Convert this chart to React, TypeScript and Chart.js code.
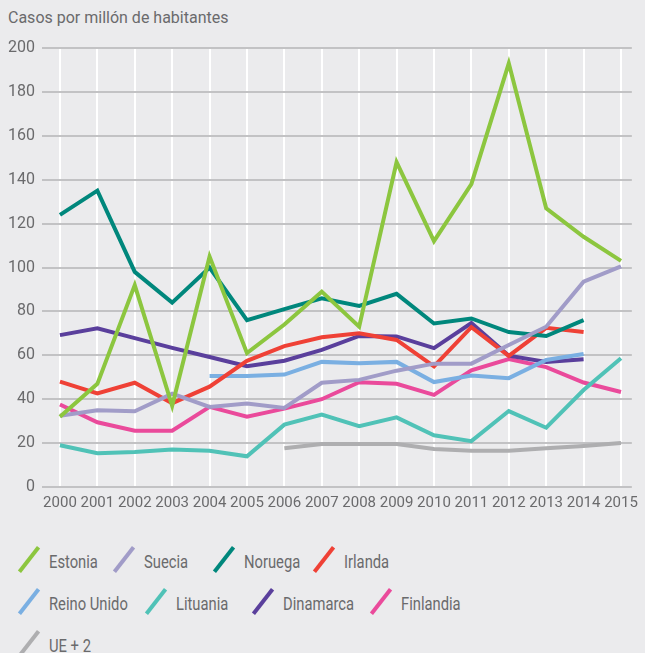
import React, { useEffect, useRef } from "react";
import { Chart, registerables } from "chart.js";
Chart.register(...registerables);

const years = [2000, 2001, 2002, 2003, 2004, 2005, 2006, 2007, 2008, 2009, 2010, 2011, 2012, 2013, 2014, 2015];
const estonia = [32, 47, 92, 37, 105, 61, 74, 89, 73, 148, 112, 138, 193, 127, 114, 103];
const suecia = [32.5, 35, 34.5, 42.5, 36.5, 38, 36, 47.5, 48.8, 53, 56.2, 56.2, 64.7, 73, 93.5, 100.5];
const noruega = [124, 135, 98, 84, 100, 76, 81, 86, 82.5, 88, 74.5, 76.8, 70.6, 68.8, 76, null];
const irlanda = [48, 42.6, 47.5, 38.2, 45.7, 57.5, 64.2, 68.2, 70, 67, 55, 72.8, 59.7, 72.5, 70.6, null];
const reinoUnido = [null, null, null, null, 50.6, 50.6, 51.2, 57, 56.4, 57, 47.8, 50.8, 49.6, 57.9, 60.6, null];
const lituania = [19, 15.4, 16, 17.1, 16.5, 14, 28.4, 33, 27.7, 31.7, 23.6, 20.9, 34.6, 27, 44.2, 58.7];
const dinamarca = [69.2, 72.3, 67.8, 63.4, 59.2, 55, 57.5, 62.5, 68.8, 68.6, 63.3, 74.7, 59.8, 57, 58.2, null];
const finlandia = [37.6, 29.5, 25.6, 25.6, 36.5, 32, 35.7, 40, 47.7, 47, 42, 53.2, 58.3, 54.6, 47.6, 43.3];
const ue2 = [null, null, null, null, null, null, 17.7, 19.6, 19.6, 19.6, 17.3, 16.5, 16.5, 17.6, 18.7, 20];

const seriesNames = ["Estonia", "Suecia", "Noruega", "Irlanda", "Reino Unido", "Lituania", "Dinamarca", "Finlandia", "UE + 2"];
const seriesValues = [estonia, suecia, noruega, irlanda, reinoUnido, lituania, dinamarca, finlandia, ue2];
const seriesColors = ["#8cc63f", "#a19cc8", "#00877c", "#ef4136", "#7aafe2", "#50c2b7", "#5a3f9c", "#ea4a9b", "#aeaeb0"];

const yTicksMax = 200;
const yTickStep = 20;
const titleText = "Casos por millón de habitantes";

// legend layout (style only): marker left edge and row for each item
const legendLeft = [18, 113, 213, 313, 18, 145, 252, 370, 18];
const legendRow = [0, 0, 0, 0, 1, 1, 1, 1, 2];

const FONT = 'Roboto, "Liberation Sans", sans-serif';
const BG = "#ebebed";
const TEXT = "#6a6a6c";

export default function App() {
  const ref = useRef<HTMLCanvasElement | null>(null);

  useEffect(() => {
    document.body.style.margin = "0";
    document.body.style.background = BG;
    const canvas = ref.current;
    if (!canvas) return;
    const chart = new Chart(canvas, {
      type: "line",
      data: {
        datasets: seriesNames.map((name, i) => ({
          label: name,
          data: years.map((yr, j) => ({ x: yr, y: seriesValues[i][j] })),
          borderColor: seriesColors[i],
          backgroundColor: seriesColors[i],
          borderWidth: 4,
          pointRadius: 0,
          pointHoverRadius: 0,
          tension: 0,
          spanGaps: false,
          fill: false,
        })),
      },
      options: {
        animation: false,
        responsive: false,
        maintainAspectRatio: false,
        layout: { padding: { left: 8, right: 8, top: 48, bottom: 0 } },
        plugins: {
          legend: { display: false },
          tooltip: { enabled: false },
          title: { display: false },
        },
        scales: {
          x: {
            type: "linear",
            min: 1999.52,
            max: 2015.29,
            border: { display: false },
            grid: { color: "#ffffff", lineWidth: 2, drawTicks: false },
            ticks: {
              stepSize: 1,
              includeBounds: false,
              autoSkip: false,
              maxRotation: 0,
              padding: 7,
              color: TEXT,
              font: { family: FONT, size: 15 },
              callback: (v: any) => String(v),
            },
            afterFit: (scale: any) => {
              scale.height = 33;
            },
          },
          y: {
            min: 0,
            max: yTicksMax,
            border: { display: false },
            grid: { color: "#c2c2c4", lineWidth: 2, drawTicks: false },
            ticks: {
              stepSize: yTickStep,
              padding: 7,
              color: TEXT,
              font: { family: FONT, size: 16 },
            },
            afterFit: (scale: any) => {
              scale.width = 34;
            },
          },
        },
      },
    } as any);
    return () => chart.destroy();
  }, []);

  return (
    <div style={{ position: "relative", width: 645, height: 653, background: BG, overflow: "hidden", fontFamily: FONT }}>
      <div style={{ position: "absolute", left: 8, top: 9, fontSize: 16, lineHeight: "18px", color: TEXT, whiteSpace: "nowrap" }}>
        {titleText}
      </div>
      <canvas ref={ref} width={645} height={520} style={{ position: "absolute", left: 0, top: 0, width: 645, height: 520 }} />
      {seriesNames.map((name, i) => (
        <div
          key={name}
          style={{ position: "absolute", left: legendLeft[i], top: 546 + 42 * legendRow[i], width: 160, height: 26 }}
        >
          <div
            style={{
              position: "absolute",
              left: 9,
              top: -2.5,
              width: 4,
              height: 31,
              background: seriesColors[i],
              transform: "rotate(38deg)",
            }}
          />
          <span
            style={{
              position: "absolute",
              left: 31,
              top: 6,
              fontSize: 18,
              lineHeight: "20px",
              color: TEXT,
              whiteSpace: "nowrap",
              transform: "scaleX(0.82)",
              transformOrigin: "left center",
            }}
          >
            {name}
          </span>
        </div>
      ))}
    </div>
  );
}
